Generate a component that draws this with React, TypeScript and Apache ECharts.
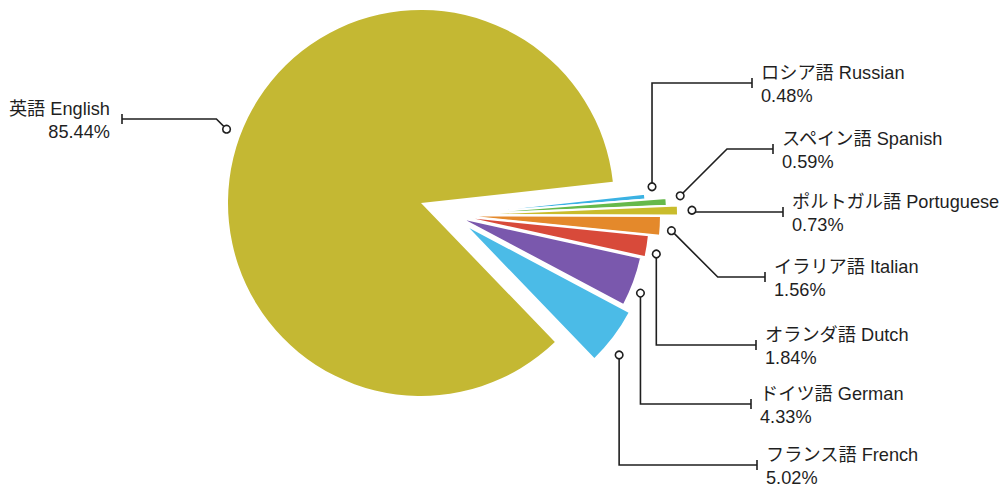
import React, { useEffect, useRef } from "react";
import * as echarts from "echarts";

// ---- data ----
const languages = [
  "ロシア語 Russian",
  "スペイン語 Spanish",
  "ポルトガル語 Portuguese",
  "イラリア語 Italian",
  "オランダ語 Dutch",
  "ドイツ語 German",
  "フランス語 French",
  "英語 English",
];
const shares = [0.48, 0.59, 0.73, 1.56, 1.84, 4.33, 5.02, 85.44];

// ---- styles / layout ----
const colors = ["#3bb2e3", "#66b94a", "#c9bc2c", "#e4892b", "#d84a3a", "#7a58ad", "#4bbbe7", "#c4b833"];
const sliceRadius = [192, 212, 222, 204, 192, 186, 188, 193];
const sliceOffset = [2, 3, 4, 5, 6, 8, 15, 0];
const fanCenter = [452, 215];
const mainCenter = [421, 203];
const startAngle = 6.3;
const anchorGap = [8, 14, 14, 11, 10, 10, 15, 15];
const anchorAngleShift = [2.6, 1.3, 0, -1.1, -1.7, -2.3, -2.9, -0.9];
const labelBarX = [752, 773, 783, 765, 756, 751, 757, 122];
const labelBarY = [83, 149, 212, 277, 345, 404, 465, 119];
const routeKind = ["v", "d", "d", "d", "v", "v", "v", "d"];

const FONT_FAMILY = "'Liberation Sans', 'Noto Sans CJK JP', sans-serif";
const INK = "#1f1f1f";

export default function App() {
  const ref = useRef<HTMLDivElement | null>(null);

  useEffect(() => {
    if (!ref.current) return;
    const chart = echarts.init(ref.current, undefined, { renderer: "svg" });
    const last = shares.length - 1;

    const series = shares.map((_, i) => ({
      type: "pie",
      center: i === last ? mainCenter : fanCenter,
      radius: sliceRadius[i],
      startAngle,
      clockwise: true,
      selectedMode: "multiple",
      selectedOffset: sliceOffset[i],
      avoidLabelOverlap: false,
      silent: true,
      label: { show: false },
      labelLine: { show: false },
      emphasis: { disabled: true },
      select: { itemStyle: { borderColor: "#fff", borderWidth: 2 } },
      data: shares.map((v, j) => ({
        name: languages[j],
        value: v,
        selected: j === i && sliceOffset[i] > 0,
        itemStyle:
          j === i
            ? {
                color: colors[j],
                borderColor: "#fff",
                borderWidth: i === last ? 0 : 2,
              }
            : { color: "rgba(0,0,0,0)", borderWidth: 0 },
      })),
    }));

    chart.setOption({
      animation: false,
      backgroundColor: "#fff",
      series,
    } as any);

    // leader lines computed from the library's pie layout
    const total = shares.reduce((a, b) => a + b, 0);
    const graphics: any[] = [];
    shares.forEach((v, i) => {
      let cx: number, cy: number, r: number, sa: number, ea: number;
      try {
        const model = (chart as any).getModel();
        const lay = model.getSeriesByIndex(i).getData().getItemLayout(i);
        cx = lay.cx;
        cy = lay.cy;
        r = lay.r;
        sa = lay.startAngle;
        ea = lay.endAngle;
      } catch (e) {
        const c = i === last ? mainCenter : fanCenter;
        cx = c[0];
        cy = c[1];
        r = sliceRadius[i];
        const before = shares.slice(0, i).reduce((a, b) => a + b, 0);
        sa = (-startAngle * Math.PI) / 180 + (before / total) * Math.PI * 2;
        ea = sa + (v / total) * Math.PI * 2;
      }
      const mid = (sa + ea) / 2 - (anchorAngleShift[i] * Math.PI) / 180;
      const rr = r + sliceOffset[i] + anchorGap[i];
      const ax = cx + Math.cos(mid) * rr;
      const ay = cy + Math.sin(mid) * rr;
      const bx = labelBarX[i];
      const by = labelBarY[i];
      let pts: number[][];
      if (routeKind[i] === "v") {
        pts = [[ax, ay], [ax, by], [bx, by]];
      } else {
        const sign = bx > ax ? 1 : -1;
        const kx = ax + sign * Math.abs(by - ay);
        pts = [[ax, ay], [kx, by], [bx, by]];
      }
      graphics.push({
        type: "polyline",
        z: 100,
        shape: { points: pts },
        style: { stroke: INK, lineWidth: 1.6, fill: null },
      });
      graphics.push({
        type: "line",
        z: 101,
        shape: { x1: bx, y1: by - 5, x2: bx, y2: by + 5 },
        style: { stroke: INK, lineWidth: 1.6 },
      });
      graphics.push({
        type: "circle",
        z: 102,
        shape: { cx: ax, cy: ay, r: 3.8 },
        style: { fill: "#fff", stroke: INK, lineWidth: 1.6 },
      });
      const right = bx < ax;
      graphics.push({
        type: "text",
        z: 103,
        x: right ? bx - 12 : bx + 9,
        y: by + 1.5,
        style: {
          text: `${languages[i]}\n${v.toFixed(2)}%`,
          fill: INK,
          fontSize: 18.2,
          fontFamily: FONT_FAMILY,
          lineHeight: 23,
          align: right ? "right" : "left",
          verticalAlign: "middle",
          textAlign: right ? "right" : "left",
          textVerticalAlign: "middle",
        },
      });
    });

    chart.setOption({ graphic: { elements: graphics } } as any);

    return () => {
      chart.dispose();
    };
  }, []);

  return (
    <div
      ref={ref}
      style={{ position: "fixed", left: 0, top: 0, width: 1003, height: 489 }}
    />
  );
}
